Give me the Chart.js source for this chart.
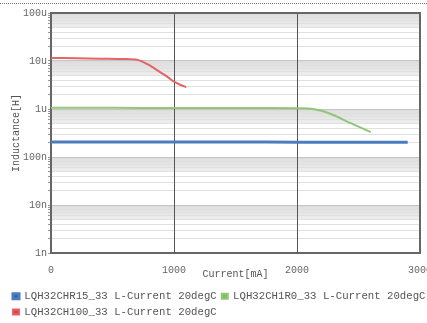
<!DOCTYPE html>
<html>
<head>
<meta charset="utf-8">
<script src="https://cdn.jsdelivr.net/npm/chart.js@4"></script>
<style>
  body { margin: 0; background: #fff; }
  #wrap { position: relative; width: 427px; height: 323px; }
  #dots { position: absolute; left: 0; top: 3px; width: 427px; border-top: 1px dotted #777; }
</style>
</head>
<body>
<div id="wrap">
  <canvas id="lcChart" width="427" height="323"></canvas>
  <div id="dots"></div>
</div>
<script>
// L-Current curves, current in mA, inductance in H
const seriesNames = ['LQH32CHR15_33 L-Current 20degC', 'LQH32CH1R0_33 L-Current 20degC', 'LQH32CH100_33 L-Current 20degC'];

const blueCurrent = [0, 500, 1000, 1500, 2000, 2500, 2900];
const blueL = [0.205e-6, 0.205e-6, 0.205e-6, 0.205e-6, 0.204e-6, 0.203e-6, 0.202e-6];

const greenCurrent = [0, 500, 1000, 1500, 2000, 2100, 2200, 2300, 2400, 2500, 2600];
const greenL = [1.06e-6, 1.06e-6, 1.05e-6, 1.05e-6, 1.04e-6, 1.03e-6, 0.92e-6, 0.74e-6, 0.56e-6, 0.43e-6, 0.33e-6];

const redCurrent = [0, 200, 400, 600, 700, 750, 800, 850, 900, 950, 1000, 1050, 1100];
const redL = [11.6e-6, 11.4e-6, 11.2e-6, 11.0e-6, 10.6e-6, 9.5e-6, 8.2e-6, 6.8e-6, 5.6e-6, 4.6e-6, 3.7e-6, 3.2e-6, 2.85e-6];

const xTicks = [0, 1000, 2000, 3000];
const yDecades = [1e-9, 1e-8, 1e-7, 1e-6, 1e-5, 1e-4];
const yTickLabels = ['1n', '10n', '100n', '1u', '10u', '100u'];

function toPoints(xs, ys) {
  return xs.map((x, i) => ({ x: x, y: ys[i] }));
}

function isDecade(v) {
  const l = Math.log10(v);
  return Math.abs(l - Math.round(l)) < 1e-6;
}

function decadeLabel(v) {
  const i = yDecades.findIndex(d => Math.abs(Math.log10(d) - Math.log10(v)) < 1e-6);
  return i >= 0 ? yTickLabels[i] : '';
}

// light grey band just below every decade line
const bandPlugin = {
  id: 'bands',
  beforeDraw(chart) {
    const { ctx, chartArea } = chart;
    const y = chart.scales.y;
    ctx.save();
    yDecades.slice(1).forEach(d => {
      const top = y.getPixelForValue(d);
      const bottom = y.getPixelForValue(d / 2);
      const g = ctx.createLinearGradient(0, top, 0, bottom);
      g.addColorStop(0, '#dcdcdc');
      g.addColorStop(1, '#eeeeee');
      ctx.fillStyle = g;
      ctx.fillRect(chartArea.left, top, chartArea.right - chartArea.left, bottom - top);
    });
    ctx.restore();
  },
  // solid dark verticals at the inner x ticks, above the horizontal grid
  beforeDatasetsDraw(chart) {
    const { ctx, chartArea: a } = chart;
    const x = chart.scales.x;
    ctx.save();
    ctx.strokeStyle = '#555';
    ctx.lineWidth = 1;
    xTicks.slice(1, -1).forEach(v => {
      const px = Math.round(x.getPixelForValue(v)) + 0.5;
      ctx.beginPath();
      ctx.moveTo(px, a.top);
      ctx.lineTo(px, a.bottom);
      ctx.stroke();
    });
    ctx.restore();
  }
};

// fixed legend box under the x axis
const legendPlace = {
  id: 'legendPlace',
  beforeInit(chart) {
    const fit = chart.legend.fit;
    chart.legend.fit = function () {
      fit.call(this);
      this.height = 43;
    };
  },
  beforeDraw(chart) {
    chart.legend.top = 286;
    chart.legend.left = 8;
    chart.legend.right = 440;
  }
};

const frameFont = { family: 'Liberation Mono', size: 10 };
const legendFont = { family: 'Liberation Mono', size: 10.7 };

new Chart(document.getElementById('lcChart'), {
  type: 'line',
  data: {
    datasets: [
      {
        label: seriesNames[0],
        data: toPoints(blueCurrent, blueL),
        borderColor: '#4a7cbf',
        backgroundColor: '#2f5f9f',
        borderWidth: 3,
        pointRadius: 0,
        tension: 0.3
      },
      {
        label: seriesNames[1],
        data: toPoints(greenCurrent, greenL),
        borderColor: '#92c577',
        backgroundColor: '#7fbf5f',
        borderWidth: 2,
        pointRadius: 0,
        tension: 0.3
      },
      {
        label: seriesNames[2],
        data: toPoints(redCurrent, redL),
        borderColor: '#e46464',
        backgroundColor: '#e04444',
        borderWidth: 2,
        pointRadius: 0,
        tension: 0.3
      }
    ]
  },
  options: {
    responsive: false,
    animation: false,
    layout: { padding: { top: 13, right: 7, left: 10, bottom: 0 } },
    plugins: {
      tooltip: { enabled: false },
      legend: {
        position: 'bottom',
        align: 'start',
        labels: {
          boxWidth: 6,
          boxHeight: 5,
          padding: 5,
          color: '#555',
          font: legendFont
        }
      }
    },
    scales: {
      x: {
        type: 'linear',
        min: 0,
        max: 3000,
        afterBuildTicks: scale => { scale.ticks = xTicks.map(v => ({ value: v })); },
        afterFit: scale => { scale.height = 27; scale.paddingLeft = 0; scale.paddingRight = 0; },
        ticks: { color: '#666', font: frameFont, padding: 3, maxRotation: 0, callback: v => String(v) },
        grid: { display: false },
        border: { color: '#666', width: 2 },
        title: { display: true, text: 'Current[mA]', color: '#555', font: frameFont, padding: { top: 0, bottom: 0 } }
      },
      y: {
        type: 'logarithmic',
        min: 1e-9,
        max: 1e-4,
        afterBuildTicks: scale => {
          const t = [];
          yDecades.forEach(d => {
            for (let k = 1; k <= 9; k++) {
              const v = d * k;
              if (v <= 1.0001e-4) t.push({ value: v });
            }
          });
          scale.ticks = t;
        },
        afterFit: scale => { scale.width = 41; },
        ticks: {
          color: '#666',
          font: frameFont,
          padding: 1,
          autoSkip: false,
          callback: v => isDecade(v) ? decadeLabel(v) : ''
        },
        grid: {
          color: ctx => (ctx.tick && isDecade(ctx.tick.value)) ? '#c4c4c4' : '#e0e0e0',
          lineWidth: 1,
          tickLength: 3,
          tickColor: '#999'
        },
        border: { color: '#666', width: 2 },
        title: { display: true, text: 'Inductance[H]', color: '#555', font: frameFont, padding: 0 }
      }
    }
  },
  plugins: [bandPlugin, legendPlace, {
    // right and top frame
    id: 'frame',
    afterDraw(chart) {
      const { ctx, chartArea: a } = chart;
      ctx.save();
      ctx.strokeStyle = '#666';
      ctx.lineWidth = 2;
      ctx.beginPath();
      ctx.moveTo(a.left, a.top);
      ctx.lineTo(a.right, a.top);
      ctx.lineTo(a.right, a.bottom);
      ctx.stroke();
      ctx.restore();
    }
  }]
});
</script>
</body>
</html>
